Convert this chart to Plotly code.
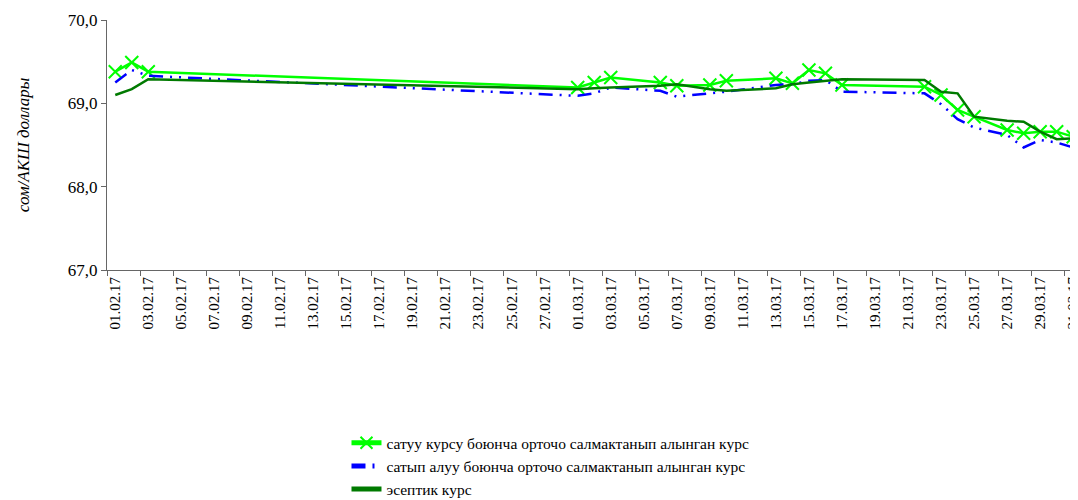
import pandas as pd
import plotly.graph_objects as go

dates = ["01.02.17", "02.02.17", "03.02.17", "01.03.17", "02.03.17", "03.03.17",
         "06.03.17", "07.03.17", "09.03.17", "10.03.17", "13.03.17", "14.03.17",
         "15.03.17", "16.03.17", "17.03.17", "22.03.17", "23.03.17", "24.03.17",
         "25.03.17", "27.03.17", "28.03.17", "29.03.17", "30.03.17", "31.03.17"]

sell_rate = [69.38, 69.49, 69.38, 69.19, 69.25, 69.31, 69.25, 69.21, 69.22, 69.27,
             69.30, 69.24, 69.40, 69.36, 69.22, 69.20, 69.10, 68.92, 68.84, 68.68,
             68.64, 68.66, 68.66, 68.60]
buy_rate = [69.25, 69.40, 69.33, 69.09, 69.12, 69.19, 69.15, 69.08, 69.12, 69.14,
            69.22, 69.23, 69.27, 69.28, 69.14, 69.12, 68.99, 68.81, 68.71, 68.62,
            68.47, 68.56, 68.53, 68.47]
official_rate = [69.10, 69.17, 69.29, 69.17, 69.18, 69.19, 69.21, 69.23, 69.17, 69.15,
                 69.18, 69.23, 69.25, 69.27, 69.29, 69.28, 69.14, 69.12, 68.84, 68.79,
                 68.78, 68.66, 68.57, 68.58]

series_names = ["сатуу курсу боюнча орточо салмактанып алынган курс",
                "сатып алуу боюнча орточо салмактанып алынган курс",
                "эсептик курс"]
y_title = "сом/АКШ доллары"

x = pd.to_datetime(dates, format="%d.%m.%y")
start = pd.Timestamp("2017-02-01")
end = pd.Timestamp("2017-03-31")
tick_days = pd.date_range(start, end, freq="2D")
tick_labels = [d.strftime("%d.%m.%y") for d in tick_days]
minor_days = [d - pd.Timedelta(hours=12) for d in tick_days]

FONT = "Liberation Serif"

fig = go.Figure()
fig.add_trace(go.Scatter(
    x=x, y=sell_rate, name=series_names[0], mode="lines+markers",
    line=dict(color="#00FF00", width=2.5),
    marker=dict(symbol="x-thin", size=13, line=dict(color="#00FF00", width=2)),
))
fig.add_trace(go.Scatter(
    x=x, y=buy_rate, name=series_names[1], mode="lines",
    line=dict(color="#0000FF", width=2.5, dash="14px,7px,2px,7px,2px,7px"),
))
fig.add_trace(go.Scatter(
    x=x, y=official_rate, name=series_names[2], mode="lines",
    line=dict(color="#007A00", width=2.5),
))

fig.update_layout(
    width=1070, height=492,
    margin=dict(l=99, r=0, t=12, b=230, autoexpand=False),
    paper_bgcolor="white", plot_bgcolor="white",
    font=dict(family=FONT, size=15, color="black"),
    separators=", ",
    showlegend=True,
    legend=dict(
        orientation="v", xref="container", yref="container",
        x=0.507, xanchor="center", y=0.15, yanchor="top",
        font=dict(family=FONT, size=15.5, color="black"),
        tracegroupgap=0, itemsizing="constant",
    ),
    xaxis=dict(
        type="date", automargin=False,
        range=[start - pd.Timedelta(hours=12), end + pd.Timedelta(hours=7)],
        tickmode="array", tickvals=tick_days, ticktext=tick_labels,
        tickangle=-90, ticks="", showgrid=False, zeroline=False,
        ticklabeloverflow="allow",
        showline=True, linecolor="#666", linewidth=1,
        tickfont=dict(family=FONT, size=15),
        minor=dict(tickmode="array", tickvals=minor_days, ticks="outside",
                   ticklen=5, tickcolor="#666", showgrid=False),
    ),
    yaxis=dict(
        range=[67, 70], tickmode="array", tickvals=[67, 68, 69, 70],
        tickformat=".1f", ticks="outside", ticklen=5, tickcolor="#666",
        showline=True, linecolor="#666", linewidth=1, showgrid=False, zeroline=False,
        automargin=False,
        tickfont=dict(family=FONT, size=17),
        title=dict(text="<i>" + y_title + "</i>", font=dict(family=FONT, size=17),
                   standoff=33),
    ),
)

fig.write_html("out.html")
